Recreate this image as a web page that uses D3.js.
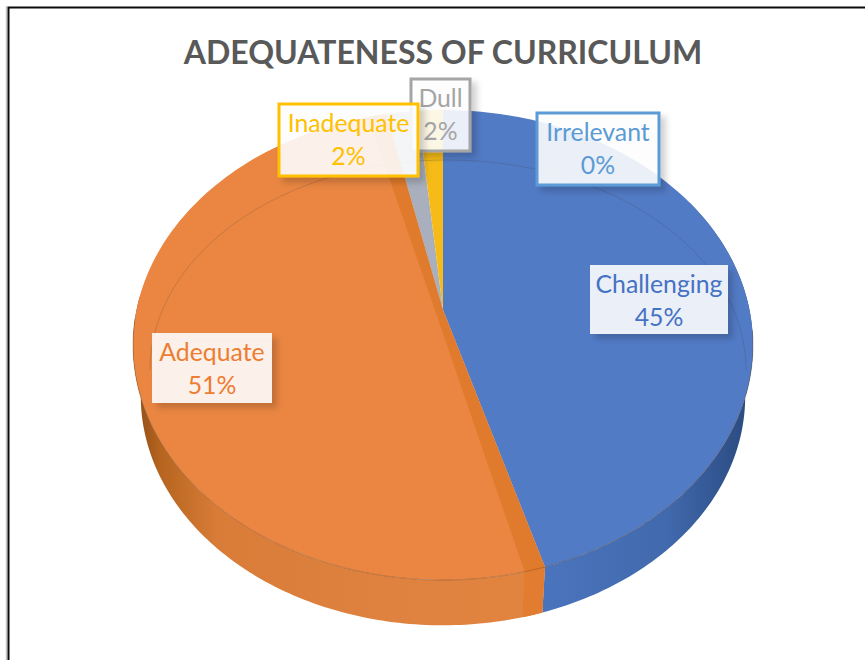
<!DOCTYPE html>
<html>
<head>
<meta charset="utf-8">
<script src="https://cdn.jsdelivr.net/npm/d3@7"></script>
<style>
html,body{margin:0;padding:0;background:#fff;overflow:hidden}
svg{display:block}
text{font-family:Lato,"Open Sans",sans-serif}
</style>
</head>
<body>
<svg id="chart" width="865" height="660"></svg>
<script>
// Data
const titleText = "ADEQUATENESS OF CURRICULUM";
const categories = ["Challenging", "Adequate", "Dull", "Inadequate", "Irrelevant"];
const shares = [45.4, 51.2, 1.9, 1.5, 0];

// Styles
const faceColors = ["#527bc6", "#ea8642", "#a9afbd", "#f6bb18", "#5b9bd5"];
const textColors = ["#4472c4", "#ed7d31", "#a5a5a5", "#ffc000", "#5b9bd5"];
const borderColors = [null, null, "#a5a5a5", "#ffc000", "#5b9bd5"];
const labelBoxes = [
  {x: 590, y: 265, w: 138, h: 69},
  {x: 152, y: 333, w: 120, h: 70},
  {x: 411, y: 79,  w: 59,  h: 72},
  {x: 279, y: 104, w: 139, h: 72},
  {x: 537, y: 113, w: 122, h: 72}
];

const svg = d3.select("#chart");
const defs = svg.append("defs");

// perspective view of the pie disc
const apex = {x: 443, y: 310};
const tilt = 0.149, radiusX = 306.5, radiusY = 229.8;
const project = (a, scale = 1, dx = 0, dy = 0) => {
  const u = Math.sin(a), v = -Math.cos(a), w = 1 - tilt * v;
  return [apex.x + dx + scale * radiusX * u / w, apex.y + dy + scale * radiusY * v / w];
};
const samples = (a0, a1) => d3.range(0, 121).map(i => a0 + (a1 - a0) * i / 120);
const line = d3.line();

const arcs = d3.pie().sort(null).value(d => d).startAngle(0).endAngle(2 * Math.PI)(shares);
const deg = Math.PI / 180;

// frame
svg.append("path").attr("d", "M6.5,660V6").attr("fill", "none").attr("stroke", "#c4c4c4").attr("stroke-width", 1.5);
svg.append("path").attr("d", "M8.5,660V7.5H865").attr("fill", "none").attr("stroke", "#0a0a0a").attr("stroke-width", 2);

// gradients for the rim
const orangeSide = defs.append("linearGradient").attr("id", "sideOrange").attr("gradientUnits", "userSpaceOnUse")
  .attr("x1", 135).attr("x2", 545).attr("y1", 0).attr("y2", 0);
[[0, "#8f4c17"], [0.06, "#b5641f"], [0.2, "#d87c38"], [0.6, "#df8240"], [1, "#e0843f"]]
  .forEach(s => orangeSide.append("stop").attr("offset", s[0]).attr("stop-color", s[1]));
const blueSide = defs.append("linearGradient").attr("id", "sideBlue").attr("gradientUnits", "userSpaceOnUse")
  .attr("x1", 543).attr("x2", 750).attr("y1", 0).attr("y2", 0);
[[0, "#4a74bd"], [0.6, "#4169ad"], [1, "#2a4a80"]]
  .forEach(s => blueSide.append("stop").attr("offset", s[0]).attr("stop-color", s[1]));

const shadow = defs.append("filter").attr("id", "boxShadow").attr("x", "-20%").attr("y", "-20%").attr("width", "150%").attr("height", "150%");
shadow.append("feDropShadow").attr("dx", 5).attr("dy", 5).attr("stdDeviation", 3).attr("flood-color", "#000").attr("flood-opacity", 0.2);

const pie = svg.append("g");

// side wall (lower, slightly smaller disc)
const wall = (a0, a1) => {
  const top = samples(a0, a1).map(a => project(a));
  const bottom = samples(a0, a1).map(a => project(a, 0.975, 0, 52)).reverse();
  return line(top.concat(bottom)) + "Z";
};
pie.append("path").attr("d", wall(arcs[0].startAngle + 60 * deg, arcs[0].endAngle)).attr("fill", "url(#sideBlue)");
pie.append("path").attr("d", wall(arcs[1].startAngle, arcs[1].startAngle + 110 * deg)).attr("fill", "url(#sideOrange)");
// the slice cut continuing down the wall
pie.append("path").attr("d", wall(arcs[0].endAngle, arcs[0].endAngle + 3.4 * deg)).attr("fill", "#e27c30");

// faces
pie.selectAll("path.face").data(arcs).join("path").attr("class", "face")
  .attr("d", d => line([[apex.x, apex.y]].concat(samples(d.startAngle, d.endAngle).map(a => project(a)))) + "Z")
  .attr("fill", (d, i) => faceColors[i]);

// darker cut faces of the large orange slice, meeting behind the apex
const cutFill = "#e07a2c";
const cutCorner = [apex.x - 6, apex.y + 6];
const cut = (a0, a1) => line([[apex.x, apex.y]].concat(samples(a0, a1).map(a => project(a)), [cutCorner])) + "Z";
pie.append("path").attr("d", cut(arcs[1].startAngle, arcs[1].startAngle + 3.4 * deg)).attr("fill", cutFill);
pie.append("path").attr("d", cut(arcs[1].endAngle, arcs[1].endAngle - 4 * deg)).attr("fill", cutFill);

// faint inner rim on the back half
const rimPts = d3.range(90, 181).map(i => {
  const t = i * 2 * deg;
  return [448 + 298 * Math.cos(t), 370 + 210 * Math.sin(t)];
});
pie.append("path").attr("d", line(rimPts))
  .attr("fill", "none").attr("stroke", "#3a3a3a").attr("stroke-opacity", 0.2).attr("stroke-width", 1);
// edge where the face meets the wall
pie.append("path").attr("d", line(samples(95 * deg, 268 * deg).map(a => project(a))))
  .attr("fill", "none").attr("stroke", "#5b3a1a").attr("stroke-opacity", 0.35).attr("stroke-width", 1);

// title
svg.append("text").attr("x", 443).attr("y", 64).attr("text-anchor", "middle")
  .attr("font-size", 32).attr("font-weight", 700).attr("fill", "#595959").text(titleText);

// labels
const pct = d3.format(".0%");
const lab = svg.selectAll("g.lab").data(categories).join("g").attr("class", "lab");
lab.append("rect")
  .attr("x", (d, i) => labelBoxes[i].x).attr("y", (d, i) => labelBoxes[i].y)
  .attr("width", (d, i) => labelBoxes[i].w).attr("height", (d, i) => labelBoxes[i].h)
  .attr("fill", "#fff").attr("fill-opacity", 0.88)
  .attr("stroke", (d, i) => borderColors[i] || "none").attr("stroke-width", 3)
  .attr("filter", "url(#boxShadow)");
lab.append("text")
  .attr("x", (d, i) => labelBoxes[i].x + labelBoxes[i].w / 2).attr("y", (d, i) => labelBoxes[i].y + 28)
  .attr("text-anchor", "middle").attr("font-size", 24.8).attr("fill", (d, i) => textColors[i]).text(d => d);
lab.append("text")
  .attr("x", (d, i) => labelBoxes[i].x + labelBoxes[i].w / 2).attr("y", (d, i) => labelBoxes[i].y + 61)
  .attr("text-anchor", "middle").attr("font-size", 24.8).attr("fill", (d, i) => textColors[i])
  .text((d, i) => pct(shares[i] / 100));
</script>
</body>
</html>
